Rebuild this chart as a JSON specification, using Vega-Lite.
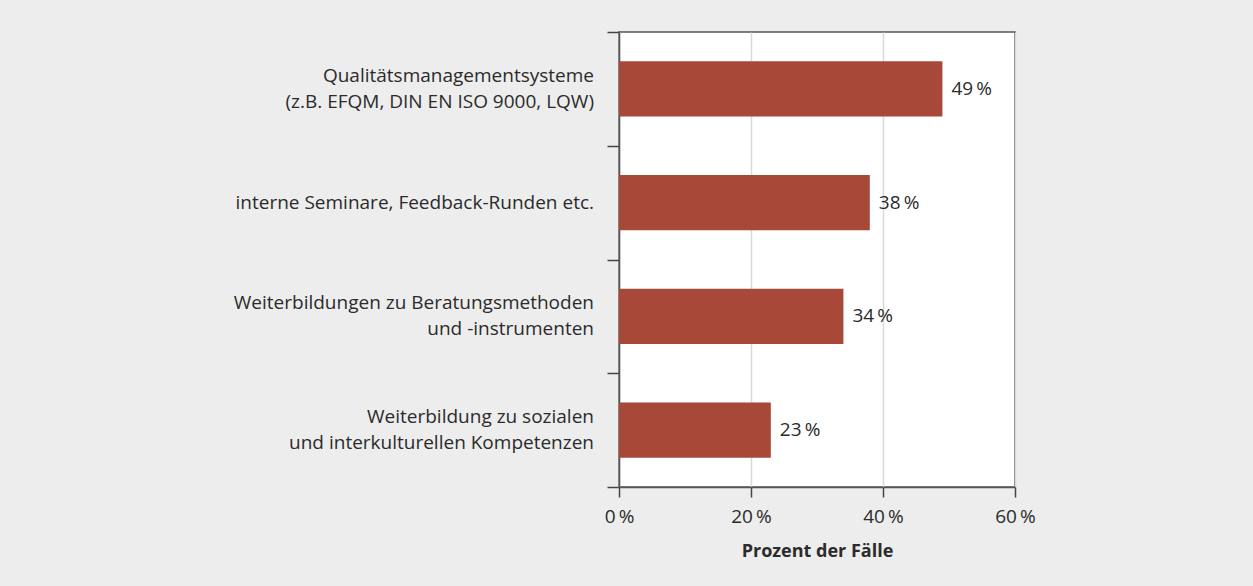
{
  "$schema": "https://vega.github.io/schema/vega-lite/v6.json",
  "autosize": {"type": "none"},
  "padding": {"left": 619, "top": 32, "right": 238, "bottom": 99},
  "width": 396,
  "height": 455,
  "background": "#ededed",
  "view": {"fill": "white", "stroke": "#555555", "strokeWidth": 1.5},
  "config": {"font": "Open Sans"},
  "data": {
    "values": [
      {"category": "Qualitätsmanagementsysteme|(z.B. EFQM, DIN EN ISO 9000, LQW)", "lines": 2, "value": 49, "label": "49\u2009%"},
      {"category": "interne Seminare, Feedback-Runden etc.", "lines": 1, "value": 38, "label": "38\u2009%"},
      {"category": "Weiterbildungen zu Beratungsmethoden|und -instrumenten", "lines": 2, "value": 34, "label": "34\u2009%"},
      {"category": "Weiterbildung zu sozialen|und interkulturellen Kompetenzen", "lines": 2, "value": 23, "label": "23\u2009%"}
    ]
  },
  "encoding": {
    "y": {
      "field": "category",
      "type": "nominal",
      "sort": null,
      "scale": {"paddingInner": 0, "paddingOuter": 0},
      "axis": {
        "title": null,
        "tickBand": "extent",
        "labels": false,
        "tickSize": 12,
        "tickColor": "#444444",
        "tickWidth": 1.5,
        "domainColor": "#555555",
        "domainWidth": 1.5
      }
    },
    "x": {
      "field": "value",
      "type": "quantitative",
      "scale": {"domain": [0, 60], "nice": false},
      "axis": {
        "title": "Prozent der Fälle",
        "titleFontSize": 18,
        "titleFontWeight": "bold",
        "titleColor": "#2b2b2b",
        "titlePadding": 16,
        "values": [0, 20, 40, 60],
        "labelExpr": "datum.value + '\u2009%'",
        "labelFlush": false,
        "labelFontSize": 19,
        "labelColor": "#2b2b2b",
        "labelPadding": 10,
        "tickSize": 10,
        "tickColor": "#444444",
        "tickWidth": 1.5,
        "domainColor": "#555555",
        "domainWidth": 1.5,
        "grid": true,
        "gridColor": "#d9d9d9",
        "gridWidth": 1.5
      }
    }
  },
  "layer": [
    {"mark": {"type": "bar", "color": "#a84838", "height": {"band": 0.484}}},
    {
      "mark": {"type": "text", "align": "left", "baseline": "middle", "dx": 9, "fontSize": 19, "color": "#2b2b2b"},
      "encoding": {"text": {"field": "label"}}
    },
    {
      "transform": [{"filter": "datum.lines == 2"}],
      "mark": {"type": "text", "align": "right", "baseline": "line-bottom", "lineBreak": "|", "lineHeight": 26, "dx": -25, "fontSize": 19, "color": "#2b2b2b"},
      "encoding": {"x": {"datum": 0}, "text": {"field": "category"}}
    },
    {
      "transform": [{"filter": "datum.lines == 1"}],
      "mark": {"type": "text", "align": "right", "baseline": "middle", "dx": -25, "fontSize": 19, "color": "#2b2b2b"},
      "encoding": {"x": {"datum": 0}, "text": {"field": "category"}}
    }
  ]
}
